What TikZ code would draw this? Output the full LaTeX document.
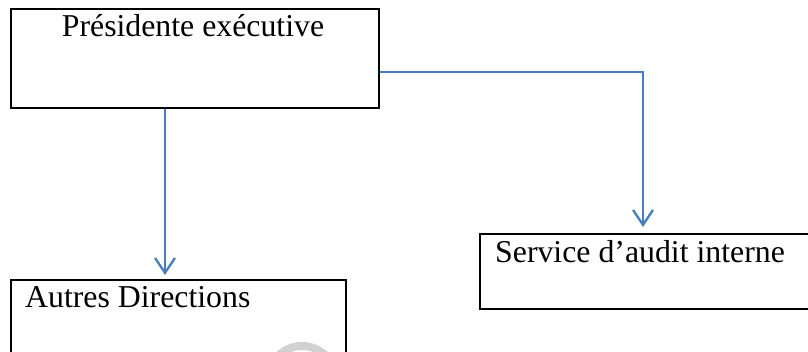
\documentclass[tikz,border=0pt]{standalone}
\usepackage{fontspec}
\setmainfont{Liberation Serif}
\usetikzlibrary{arrows.meta}
\definecolor{lineblue}{HTML}{4A7EBB}
\tikzset{
  box/.style={draw=black, line width=2.3pt, anchor=north west, inner sep=0pt},
  lbl/.style={font=\fontsize{31.8}{38}\selectfont, inner sep=0pt},
  conn/.style={draw=lineblue, line width=2.3pt, -{Straight Barb[length=15pt,width=20pt,line width=2.3pt]}},
}
\begin{document}
\begin{tikzpicture}[x=1pt,y=1pt]
\useasboundingbox (0,0) rectangle (808,352);
% watermark fragment
\draw[black!18, line width=8pt] (302,-27.5) circle (33.5);
% boxes
\node[box, minimum width=368pt, minimum height=99pt] (pres) at (10,344) {};
\node[box, minimum width=335pt, minimum height=84pt] (autres) at (10,73) {};
\node[box, minimum width=335pt, minimum height=75pt] (audit) at (479,119) {};
% texts
\node[lbl, anchor=base] (presT) at (193,315) {Présidente exécutive};
\node[lbl, anchor=base west] (autresT) at (25,44) {Autres Directions};
\node[lbl, anchor=base west] (auditT) at (495,89) {Service d’audit interne};
% connectors
\coordinate (a1) at (165,0);
\coordinate (r1) at (643,280);
\draw[conn, shorten >=4pt] (pres.south -| a1) -- (autres.north -| a1);
\draw[conn, shorten >=6pt] (pres.east |- r1) -| (audit.north -| r1);
\end{tikzpicture}
\end{document}
